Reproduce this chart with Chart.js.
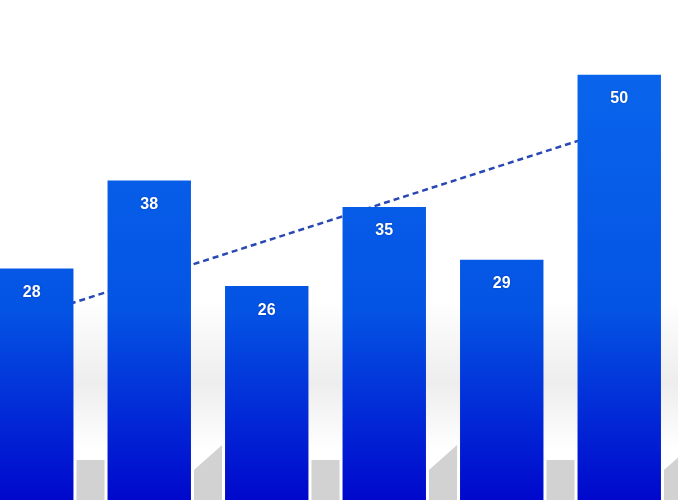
<!DOCTYPE html>
<html>
<head>
<meta charset="utf-8">
<script src="https://cdn.jsdelivr.net/npm/chart.js@4/dist/chart.umd.min.js"></script>
<style>
  html, body { margin: 0; padding: 0; background: #fff; }
  #wrap { position: relative; width: 700px; height: 500px; overflow: hidden; }
  #chart { position: absolute; left: -27px; top: 0; }
</style>
</head>
<body>
<div id="wrap"><canvas id="chart" width="705" height="515"></canvas></div>
<script>
const categories = ['A', 'B', 'C', 'D', 'E', 'F'];
const barValues = [28, 38, 26, 35, 29, 50];
// dashed trend, only first and last point given
const trendValues = [22.6, null, null, null, null, 44.0];

// background: soft grey band and floor shadows in the gaps
const backdrop = {
  id: 'backdrop',
  beforeDraw(chart) {
    const ctx = chart.ctx;
    const x = chart.scales.x;
    const w = chart.width, h = chart.height;
    ctx.save();
    ctx.fillStyle = '#ffffff';
    ctx.fillRect(0, 0, w, h);
    const band = ctx.createLinearGradient(0, 300, 0, 450);
    band.addColorStop(0, 'rgba(230,230,230,0)');
    band.addColorStop(0.55, 'rgba(230,230,230,0.7)');
    band.addColorStop(1, 'rgba(230,230,230,0)');
    ctx.fillStyle = band;
    ctx.fillRect(0, 300, w, 150);

    const step = x.getPixelForValue(1) - x.getPixelForValue(0);
    const half = step * 0.355;
    ctx.fillStyle = '#d2d2d2';
    for (let i = 0; i < categories.length; i++) {
      const left = x.getPixelForValue(i) + half + 3;
      const right = Math.min(x.getPixelForValue(i + 1) - half - 3, left + 30);
      ctx.beginPath();
      if (i % 2 === 0) {
        ctx.moveTo(left, 460);
        ctx.lineTo(right, 460);
      } else {
        ctx.moveTo(left, 470);
        ctx.lineTo(right, 445);
      }
      ctx.lineTo(right, h);
      ctx.lineTo(left, h);
      ctx.closePath();
      ctx.fill();
    }
    // faint edge on the right
    ctx.fillStyle = 'rgba(0,0,0,0.03)';
    ctx.fillRect(714, 0, 4, h);
    ctx.restore();
  }
};

const valueLabels = {
  id: 'valueLabels',
  afterDatasetsDraw(chart) {
    const ctx = chart.ctx;
    const meta = chart.getDatasetMeta(0);
    ctx.save();
    ctx.font = 'bold 16px "Liberation Sans", Arial, sans-serif';
    ctx.fillStyle = '#ffffff';
    ctx.textAlign = 'center';
    ctx.textBaseline = 'middle';
    ctx.shadowColor = 'rgba(0,0,60,0.35)';
    ctx.shadowBlur = 2;
    meta.data.forEach((bar, i) => {
      ctx.fillText(String(barValues[i]), bar.x, bar.y + 24);
    });
    ctx.restore();
  }
};

function barGradient(context) {
  const area = context.chart.chartArea;
  if (!area) return '#0044dd';
  const g = context.chart.ctx.createLinearGradient(0, area.top, 0, area.bottom);
  g.addColorStop(0, '#0b6aee');
  g.addColorStop(0.6, '#0454e4');
  g.addColorStop(0.97, '#0008cc');
  g.addColorStop(1, '#0004c8');
  return g;
}

new Chart(document.getElementById('chart'), {
  type: 'bar',
  data: {
    labels: categories,
    datasets: [
      {
        type: 'bar',
        data: barValues,
        backgroundColor: barGradient,
        borderWidth: 0,
        barPercentage: 0.71,
        categoryPercentage: 1,
        order: 1
      },
      {
        type: 'line',
        data: trendValues,
        spanGaps: true,
        borderColor: '#2848b4',
        borderWidth: 2.5,
        borderDash: [6, 4],
        pointRadius: 0,
        fill: false,
        order: 2
      }
    ]
  },
  options: {
    responsive: false,
    animation: false,
    layout: { padding: 0 },
    plugins: {
      legend: { display: false },
      tooltip: { enabled: false }
    },
    scales: {
      x: { display: false, offset: true, grid: { display: false } },
      y: { display: false, min: 0, max: 58.5, grid: { display: false } }
    }
  },
  plugins: [backdrop, valueLabels]
});
</script>
</body>
</html>
